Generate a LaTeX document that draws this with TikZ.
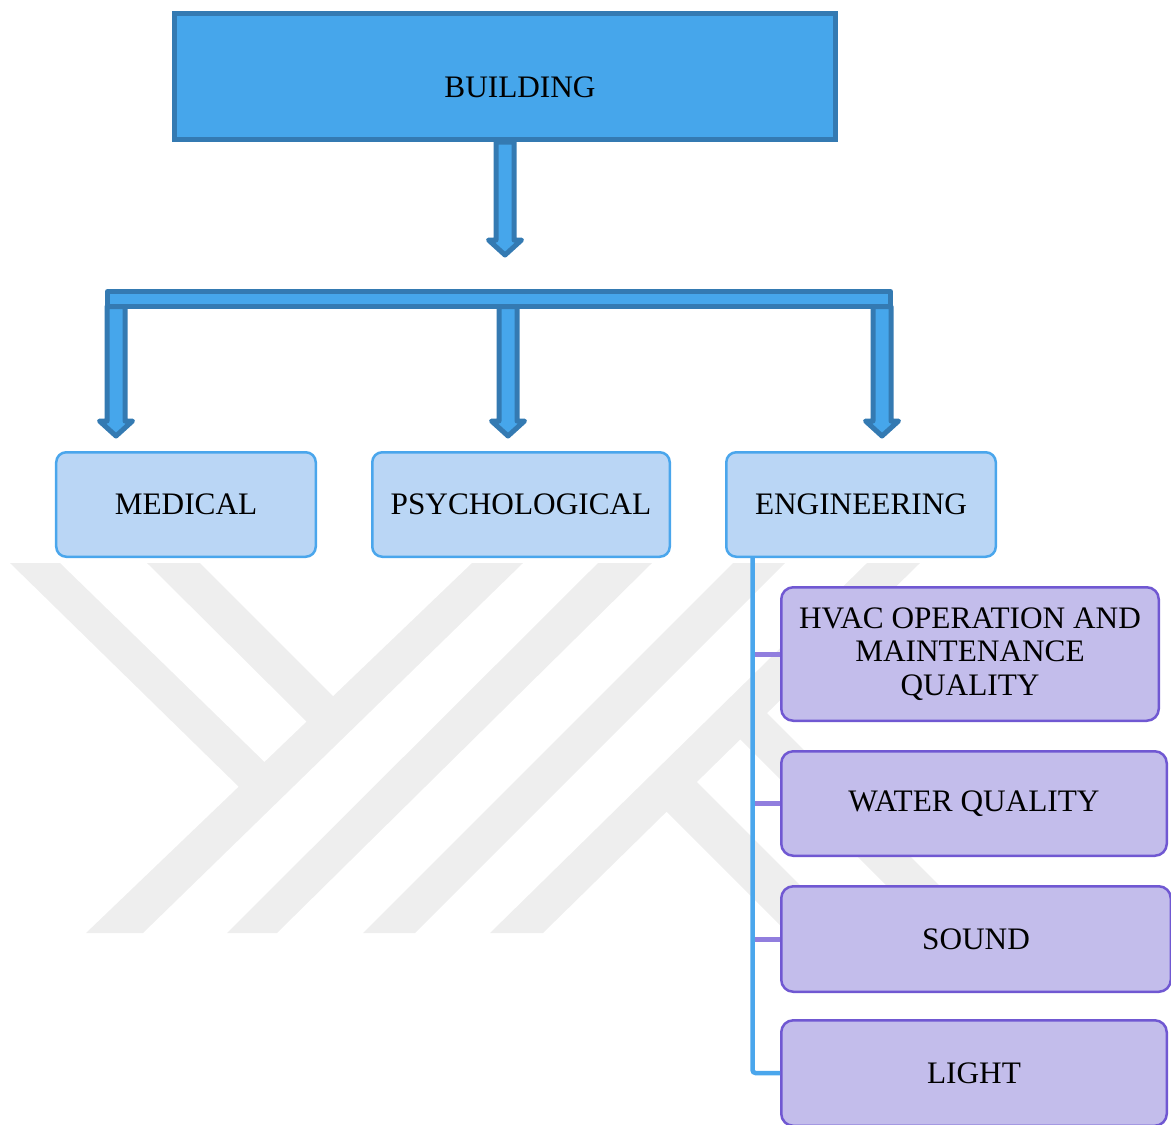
\documentclass[tikz,border=0pt]{standalone}
\usepackage{fontspec}
\setmainfont{Liberation Serif}
\usetikzlibrary{calc,positioning}
\definecolor{topfill}{RGB}{70,166,235}
\definecolor{topline}{RGB}{52,122,178}
\definecolor{catfill}{RGB}{186,214,245}
\definecolor{catline}{RGB}{74,166,236}
\definecolor{subfill}{RGB}{195,189,235}
\definecolor{subline}{RGB}{112,88,210}
\definecolor{stubcol}{RGB}{145,126,222}
\definecolor{wmgray}{RGB}{238,238,238}
\newcommand{\shaftw}{1.8mm}
\newcommand{\headw}{3.3mm}
\newcommand{\headh}{3mm}
\newcommand{\dropArrow}[2]{%
  \draw[blockarrow] let \p1=(#1), \p2=(#2) in
    (\x1-\shaftw,\y1) -- (\x1-\shaftw,\y2+\headh) -- (\x1-\headw,\y2+\headh)
    -- (\x1,\y2) -- (\x1+\headw,\y2+\headh) -- (\x1+\shaftw,\y2+\headh)
    -- (\x1+\shaftw,\y1) -- cycle;}
\tikzset{
  txt/.style={font=\fontsize{17.8}{18.9}\selectfont, text=black},
  topbox/.style={
    draw=topline, fill=topfill, line width=1mm, inner sep=0pt,
    minimum width=132.2mm, minimum height=25.2mm
  },
  catbox/.style={
    txt, draw=catline, fill=catfill, line width=0.5mm, align=center,
    rounded corners=2mm, minimum height=20.9mm
  },
  subbox/.style={
    txt, draw=subline, fill=subfill, line width=0.5mm, align=center,
    rounded corners=2.4mm
  },
  blockarrow/.style={draw=topline, fill=topfill, line width=1mm, line join=round},
  trunkline/.style={draw=catline, line width=0.9mm, rounded corners=0.6mm},
  stubline/.style={draw=stubcol, line width=1mm},
  wmark/.style={fill=wmgray, draw=none},
}
\begin{document}
\begin{tikzpicture}[x=0.2mm, y=-0.2mm, node distance=10.8mm]
  \useasboundingbox (0,0) rectangle (1171,1124);
  \fill[wmark] (472,563) -- (523,563) -- (143,933) -- (86,933) -- cycle;
  \fill[wmark] (598,563) -- (652,563) -- (277,933) -- (227,933) -- cycle;
  \fill[wmark] (733,563) -- (785,563) -- (415,933) -- (363,933) -- cycle;
  \fill[wmark] (867,563) -- (920,563) -- (543,933) -- (490,933) -- cycle;
  \fill[wmark] (10,563) -- (60,563) -- (283,780) -- (240,788) -- cycle;
  \fill[wmark] (147,563) -- (200,563) -- (350,713) -- (307,722) -- cycle;
  \fill[wmark] (660,805) -- (690,775) -- (848,933) -- (788,933) -- cycle;
  \fill[wmark] (735,734) -- (759,705) -- (987,933) -- (934,933) -- cycle;

  \node[topbox] (building) at (505,76.5) {};
  \node[txt] (buildingtxt) at ([xshift=3mm,yshift=-2.1mm]building.center) {BUILDING};
  \node[catbox, minimum width=51.9mm] (medical) at (186,504.5) {MEDICAL};
  \node[catbox, minimum width=59.5mm, right=of medical] (psych) {PSYCHOLOGICAL};
  \node[catbox, minimum width=53.9mm, right=of psych] (engineering) {ENGINEERING};
  \node[subbox, minimum width=75.5mm, minimum height=26.7mm, anchor=west] (hvac) at (780,654)
    {HVAC OPERATION AND\\MAINTENANCE\\QUALITY};
  \node[subbox, minimum width=77.1mm, minimum height=20.9mm,
    below=5.6mm of hvac.south west, anchor=north west] (water) {WATER QUALITY};
  \node[subbox, minimum width=77.9mm, minimum height=21.1mm,
    below=5.6mm of water.south west, anchor=north west] (sound) {SOUND};
  \node[subbox, minimum width=77.1mm, minimum height=21.1mm,
    below=5.2mm of sound.south west, anchor=north west] (light) {LIGHT};

  \coordinate (split) at ($(building.south)+(0,113)$);
  \coordinate (busw) at (107.5,291.5);
  \coordinate (buse) at (890.5,306.5);
  \coordinate (medtop) at (116,306.5);
  \coordinate (medtip) at (116,436);
  \coordinate (psytop) at (508,306.5);
  \coordinate (psytip) at (508,436);
  \coordinate (engtop) at (882,306.5);
  \coordinate (engtip) at (882,436);
  \dropArrow{building.south}{split}
  \draw[blockarrow] (busw) rectangle (buse);
  \dropArrow{medtop}{medtip}
  \dropArrow{psytop}{psytip}
  \dropArrow{engtop}{engtip}

  \coordinate (trunk) at ([xshift=5.5mm]engineering.south west);
  \foreach \n in {hvac,water,sound}
    \draw[stubline] (\n.west) -- (\n.west -| trunk);
  \draw[trunkline] (trunk) |- (light.west);
\end{tikzpicture}
\end{document}
